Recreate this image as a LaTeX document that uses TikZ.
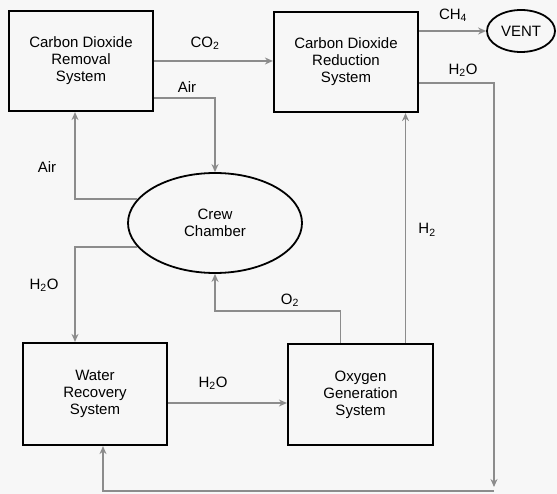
\documentclass[tikz,border=0pt]{standalone}
\usepackage{fontspec}
\setmainfont{Liberation Sans}
\usetikzlibrary{shapes.geometric,arrows.meta}
\begin{document}
\begin{tikzpicture}[x=1pt,y=-1pt,font=\fontsize{15}{17}\selectfont,
  sys/.style={draw, line width=2.2pt, minimum width=144pt, minimum height=100pt, align=center},
  pod/.style={draw, ellipse, line width=1.8pt, inner sep=0pt, align=center},
  flow/.style={draw=gray!90, line width=1.6pt, -{Stealth[length=8pt,width=7pt]}},
  lbl/.style={inner sep=0pt}]
\fill[gray!6] (0,0) rectangle (557,494);
\node[sys] (rem) at (81,61) {Carbon Dioxide\\Removal\\System};
\node[sys] (red) at (346,62) {Carbon Dioxide\\Reduction\\System};
\node[sys, minimum height=102pt] (wat) at (95,394) {Water\\Recovery\\System};
\node[sys, minimum width=145pt, minimum height=101pt] (oxy) at (360.5,394.5) {Oxygen\\Generation\\System};
\node[pod, minimum width=174pt, minimum height=100pt] (crew) at (215,223) {Crew\\Chamber};
\node[pod, minimum width=68pt, minimum height=42pt] (vent) at (521,31) {VENT};
\coordinate (watout) at ([yshift=-9pt]wat.east);
\coordinate (oxyo) at ([xshift=-20pt]oxy.north);
\coordinate (oxyh) at ([xshift=45pt]oxy.north);
\coordinate (drain) at (494,487);
\coordinate (back) at (494,491);
  \draw[flow] (rem.east) -- (red.west |- rem.east);
  \draw[flow] ([yshift=-37pt]rem.east) -| (crew.north);
  \draw[flow] (crew.163) -| ([xshift=-6pt]rem.south);
  \draw[flow] (crew.197) -| ([xshift=-20pt]wat.north);
  \draw[flow] (watout) -- (oxy.west |- watout);
  \draw[flow] (oxyo) -- ++(0,-32) -| (crew.south);
  \draw[flow] (oxyh) -- (red.south -| oxyh);
  \draw[flow] (red.east |- vent.west) -- (vent.west);
  \draw[flow] ([yshift=-21pt]red.east) -| (drain);
  \draw[flow] (back) -| ([xshift=8pt]wat.south);
  \node[lbl] (lco) at (205,43) {CO\textsubscript{2}};
  \node[lbl] (lairt) at (187,87) {Air};
  \node[lbl] (lairl) at (47,167) {Air};
  \node[lbl] (lwl) at (44,285) {H\textsubscript{2}O};
  \node[lbl] (lwm) at (213,383) {H\textsubscript{2}O};
  \node[lbl] (lo) at (290,300) {O\textsubscript{2}};
  \node[lbl] (lh) at (427,230) {H\textsubscript{2}};
  \node[lbl] (lwr) at (463,70) {H\textsubscript{2}O};
  \node[lbl] (lch) at (453,15) {CH\textsubscript{4}};
\end{tikzpicture}
\end{document}
